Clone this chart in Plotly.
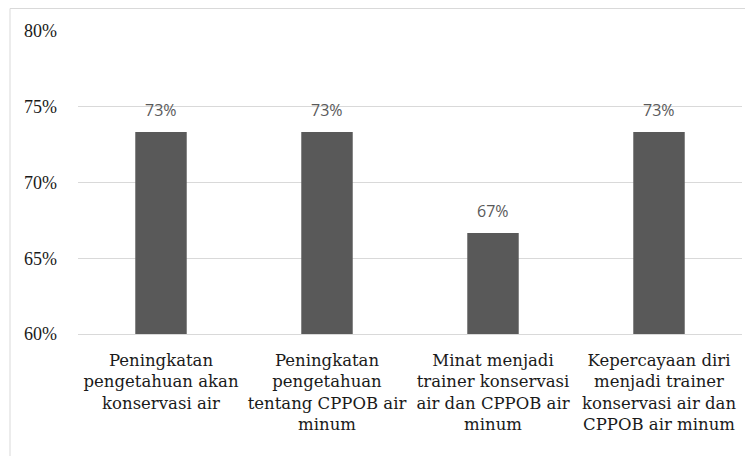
import plotly.graph_objects as go

categories = [
    "Peningkatan<br>pengetahuan akan<br>konservasi air",
    "Peningkatan<br>pengetahuan<br>tentang CPPOB air<br>minum",
    "Minat menjadi<br>trainer konservasi<br>air dan CPPOB air<br>minum",
    "Kepercayaan diri<br>menjadi trainer<br>konservasi air dan<br>CPPOB air minum",
]
values = [0.7333, 0.7333, 0.6667, 0.7333]
labels = ["73%", "73%", "67%", "73%"]
tick_vals = [0.60, 0.65, 0.70, 0.75, 0.80]
tick_text = ["60%", "65%", "70%", "75%", "80%"]

fig = go.Figure()
fig.add_trace(go.Bar(x=categories, y=values, marker=dict(color="#595959", line=dict(width=0)),
                     width=0.31, hoverinfo="skip"))

for c, v, t in zip(categories, values, labels):
    fig.add_annotation(x=c, y=v, text=t, showarrow=False, yanchor="bottom", yshift=9,
                       font=dict(family="Open Sans", size=16, color="#595959"))

fig.add_shape(type="rect", xref="paper", yref="paper", x0=-68/664, x1=1.05, y0=-0.5, y1=1 + 22.5/303,
              line=dict(color="#d9d9d9", width=1), fillcolor="rgba(0,0,0,0)", layer="below")

fig.update_layout(
    width=745, height=448,
    margin=dict(l=70, r=11, t=23, b=122),
    paper_bgcolor="white", plot_bgcolor="white",
    showlegend=False,
    xaxis=dict(showgrid=False, showline=True, linecolor="#d9d9d9", ticks="",
               tickfont=dict(family="DejaVu Serif", size=16.5, color="#1a1a1a"),
               ticklabelstandoff=11,
               tickangle=0, automargin=False),
    yaxis=dict(range=[0.60, 0.80], tickvals=tick_vals, ticktext=tick_text, showgrid=True,
               gridcolor="#d9d9d9", gridwidth=1, zeroline=False, showline=False, ticks="",
               ticklabelstandoff=20,
               tickfont=dict(family="Liberation Serif", size=18, color="#1a1a1a"),
               automargin=False),
)

fig.write_html("out.html")
